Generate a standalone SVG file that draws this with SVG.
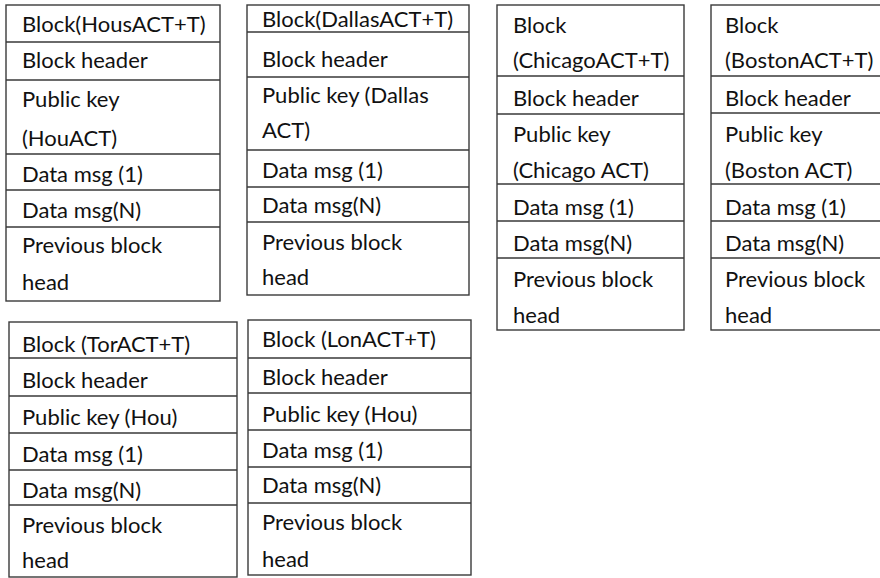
<svg xmlns="http://www.w3.org/2000/svg" width="880" height="578" viewBox="0 0 880 578">
  <style>
    .frame { fill: #ffffff; stroke: #3a3a3a; stroke-width: 1.4; }
    .rule { stroke: #3a3a3a; stroke-width: 1.4; }
    .t { font-family: Lato, "Liberation Sans", sans-serif; font-size: 22px; fill: #111111; }
  </style>
  <rect x="0" y="0" width="880" height="578" fill="#ffffff"/>

  <!-- Houston block -->
  <g id="block-hous">
    <rect class="frame" x="6" y="5" width="214" height="296"/>
    <path class="rule" d="M6 42H220M6 80H220M6 154H220M6 190H220M6 227H220"/>
    <text class="t" x="22" y="32">Block(HousACT+T)</text>
    <text class="t" x="22" y="68">Block header</text>
    <text class="t" x="22" y="107">Public key</text>
    <text class="t" x="22" y="146">(HouACT)</text>
    <text class="t" x="22" y="182">Data msg (1)</text>
    <text class="t" x="22" y="218">Data msg(N)</text>
    <text class="t" x="22" y="253">Previous block</text>
    <text class="t" x="22" y="290">head</text>
  </g>

  <!-- Dallas block -->
  <g id="block-dallas">
    <rect class="frame" x="247" y="5" width="222" height="290"/>
    <path class="rule" d="M247 32H469M247 77H469M247 150H469M247 187H469M247 222H469"/>
    <text class="t" x="262" y="27">Block(DallasACT+T)</text>
    <text class="t" x="262" y="67">Block header</text>
    <text class="t" x="262" y="103">Public key (Dallas</text>
    <text class="t" x="262" y="138">ACT)</text>
    <text class="t" x="262" y="178">Data msg (1)</text>
    <text class="t" x="262" y="213">Data msg(N)</text>
    <text class="t" x="262" y="250">Previous block</text>
    <text class="t" x="262" y="285">head</text>
  </g>

  <!-- Chicago block -->
  <g id="block-chicago">
    <rect class="frame" x="497" y="5" width="187" height="325"/>
    <path class="rule" d="M497 76H684M497 114H684M497 184H684M497 221H684M497 258H684"/>
    <text class="t" x="513" y="33">Block</text>
    <text class="t" x="513" y="68">(ChicagoACT+T)</text>
    <text class="t" x="513" y="106">Block header</text>
    <text class="t" x="513" y="142">Public key</text>
    <text class="t" x="513" y="178">(Chicago ACT)</text>
    <text class="t" x="513" y="215">Data msg (1)</text>
    <text class="t" x="513" y="251">Data msg(N)</text>
    <text class="t" x="513" y="287">Previous block</text>
    <text class="t" x="513" y="323">head</text>
  </g>

  <!-- Boston block (runs past the right edge) -->
  <g id="block-boston">
    <rect class="frame" x="711" y="5" width="180" height="325"/>
    <path class="rule" d="M711 76H891M711 113H891M711 184H891M711 221H891M711 258H891"/>
    <text class="t" x="725" y="33">Block</text>
    <text class="t" x="725" y="68">(BostonACT+T)</text>
    <text class="t" x="725" y="106">Block header</text>
    <text class="t" x="725" y="142">Public key</text>
    <text class="t" x="725" y="178">(Boston ACT)</text>
    <text class="t" x="725" y="215">Data msg (1)</text>
    <text class="t" x="725" y="251">Data msg(N)</text>
    <text class="t" x="725" y="287">Previous block</text>
    <text class="t" x="725" y="323">head</text>
  </g>

  <!-- Toronto block -->
  <g id="block-tor">
    <rect class="frame" x="9" y="322" width="228" height="255"/>
    <path class="rule" d="M9 358H237M9 396H237M9 433H237M9 470H237M9 505H237"/>
    <text class="t" x="22" y="352">Block (TorACT+T)</text>
    <text class="t" x="22" y="388">Block header</text>
    <text class="t" x="22" y="425">Public key (Hou)</text>
    <text class="t" x="22" y="462">Data msg (1)</text>
    <text class="t" x="22" y="498">Data msg(N)</text>
    <text class="t" x="22" y="533">Previous block</text>
    <text class="t" x="22" y="568">head</text>
  </g>

  <!-- London block -->
  <g id="block-lon">
    <rect class="frame" x="248" y="320" width="223" height="255"/>
    <path class="rule" d="M248 358H471M248 393H471M248 430H471M248 467H471M248 503H471"/>
    <text class="t" x="262" y="347">Block (LonACT+T)</text>
    <text class="t" x="262" y="385">Block header</text>
    <text class="t" x="262" y="422">Public key (Hou)</text>
    <text class="t" x="262" y="458">Data msg (1)</text>
    <text class="t" x="262" y="493">Data msg(N)</text>
    <text class="t" x="262" y="530">Previous block</text>
    <text class="t" x="262" y="567">head</text>
  </g>

  <g id="connectors"></g>
</svg>
